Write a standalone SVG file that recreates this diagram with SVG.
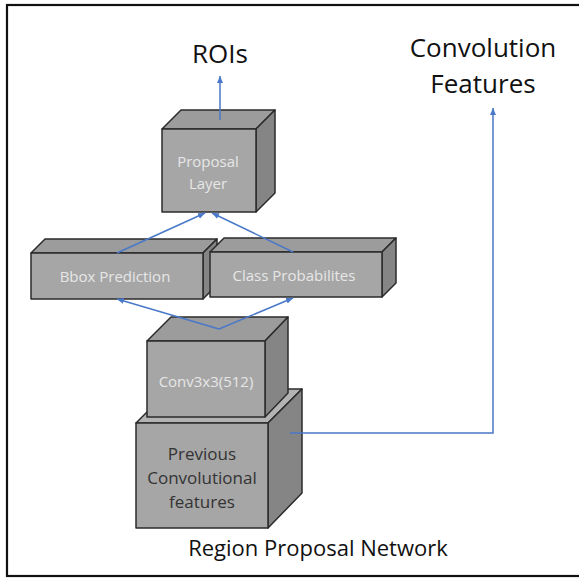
<svg xmlns="http://www.w3.org/2000/svg" width="579" height="578" viewBox="0 0 579 578">
<style>
.front{fill:#a6a6a6;stroke:#2b2b2b;stroke-width:1.5;stroke-linejoin:round}
.top{fill:#9c9c9c;stroke:#2b2b2b;stroke-width:1.5;stroke-linejoin:round}
.side{fill:#858585;stroke:#2b2b2b;stroke-width:1.5;stroke-linejoin:round}
.lt{font-family:"Open Sans","Liberation Sans",sans-serif;fill:#e6e6e6;font-size:15px;text-anchor:middle}
.dk{font-family:"Open Sans","Liberation Sans",sans-serif;fill:#333;font-size:17px;text-anchor:middle}
.big{font-family:"Open Sans","Liberation Sans",sans-serif;fill:#111;font-size:26px;text-anchor:middle}
.con{fill:none;stroke:#4a78c8;stroke-width:1.5;marker-end:url(#ah)}
</style>
<defs>
<marker id="ah" markerWidth="8" markerHeight="8" refX="7" refY="4" orient="auto" markerUnits="userSpaceOnUse">
<path d="M0,1 L7,4 L0,7 Z" fill="#4a78c8"/>
</marker>
</defs>
<rect x="7" y="5" width="590" height="571" fill="#fff" stroke="#111" stroke-width="2.2"/>
<g id="title-rois"><text class="big" x="220" y="63">ROIs</text></g>
<g id="title-conv"><text class="big" x="483" y="57">Convolution</text><text class="big" x="483" y="93">Features</text></g>
<g id="proposal">
<polygon class="top" points="162,129 181,110 275,110 256,129"/>
<polygon class="side" points="256,129 275,110 275,193 256,212"/>
<rect class="front" x="162" y="129" width="94" height="83"/>
<text class="lt" x="208" y="167">Proposal</text><text class="lt" x="208" y="189">Layer</text>
</g>
<g id="bbox">
<polygon class="top" points="31,253 45,239 217,239 203,253"/>
<polygon class="side" points="203,253 217,239 217,285 203,299"/>
<rect class="front" x="31" y="253" width="172" height="46"/>
<text class="lt" x="115" y="282">Bbox Prediction</text>
</g>
<g id="class">
<polygon class="top" points="210,252 224,238 396,238 382,252"/>
<polygon class="side" points="382,252 396,238 396,283 382,297"/>
<rect class="front" x="210" y="252" width="172" height="45"/>
<text class="lt" x="294" y="281">Class Probabilites</text>
</g>
<g id="previous">
<polygon class="top" points="136,423 170,389 302,389 268,423" style="fill:#b3b3b3"/>
<polygon class="side" points="268,423 302,389 302,493 268,528"/>
<rect class="front" x="136" y="423" width="132" height="105"/>
<text class="dk" x="202" y="460">Previous</text><text class="dk" x="202" y="484">Convolutional</text><text class="dk" x="202" y="508">features</text>
</g>
<g id="conv">
<polygon class="top" points="147,341 171,317 288,317 265,341"/>
<polygon class="side" points="265,341 288,317 288,393 265,417"/>
<rect class="front" x="147" y="341" width="118" height="76"/>
<text class="lt" x="206" y="387">Conv3x3(512)</text>
</g>
<g id="connectors">
<path class="con" d="M220,120 L220,76"/>
<path class="con" d="M117,253 L205,213"/>
<path class="con" d="M293,252 L212,213"/>
<path class="con" d="M219,329 L117,299"/>
<path class="con" d="M219,329 L293,298"/>
<path class="con" d="M290,433 L493,433 L493,108"/>
</g>
<g id="caption"><text font-family="'Open Sans','Liberation Sans',sans-serif" font-size="22" fill="#111" text-anchor="middle" x="318" y="556">Region Proposal Network</text></g>
</svg>
